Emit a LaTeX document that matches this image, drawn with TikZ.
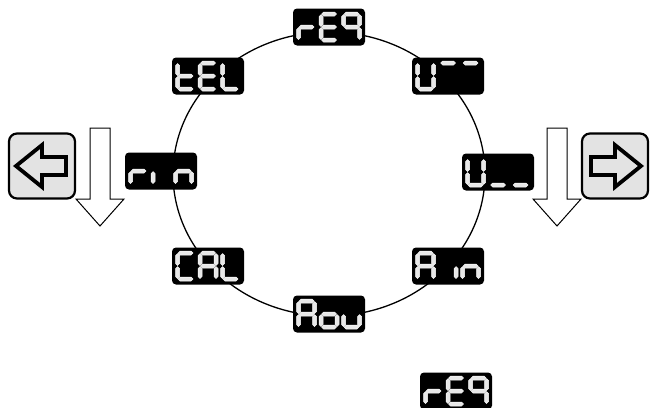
\documentclass[tikz,border=0pt]{standalone}
\usetikzlibrary{positioning}

% segmenti del display
\newcommand{\hseg}[2]{\filldraw[segmento] (#1+0.6,#2) -- ++(2,-2) -- ++(10.8,0) -- ++(2,2) -- ++(-2,2) -- ++(-10.8,0) -- cycle;}
\newcommand{\vseg}[2]{\filldraw[segmento] (#1,#2+0.6) -- ++(2,2) -- ++(0,7.8) -- ++(-2,2) -- ++(-2,-2) -- ++(0,-7.8) -- cycle;}
\newcommand{\sega}{\hseg{0}{0}}
\newcommand{\segg}{\hseg{0}{13}}
\newcommand{\segd}{\hseg{0}{26}}
\newcommand{\segf}{\vseg{0}{0}}
\newcommand{\sege}{\vseg{0}{13}}
\newcommand{\segb}{\vseg{16}{0}}
\newcommand{\segc}{\vseg{16}{13}}
\newcommand{\cifra}[2]{\begin{scope}[shift={(#1,-13)}]\foreach \s in {#2} {\csname seg\s\endcsname}\end{scope}}
\newcommand{\display}[5]{%
  \node[dispbox] (#1) at (#2) {};
  \begin{scope}[shift={(#2)}]
    \cifra{-30.5}{#3}\cifra{-8}{#4}\cifra{14.5}{#5}
  \end{scope}}

\tikzset{
  segmento/.style={fill=white!82!gray, draw=white, line width=0.5pt},
  dispbox/.style={fill=black, rounded corners=4pt, minimum width=72pt, minimum height=37pt, inner sep=0pt},
  pulsante/.style={fill=gray!22, draw=black, line width=2.2pt, rounded corners=8pt, minimum width=66pt, minimum height=65pt, inner sep=0pt},
  freccia/.style={draw=black, fill=white, line width=1pt, line join=miter}
}

\begin{document}
\begin{tikzpicture}[x=1pt, y=-1pt]
    \clip (0,0) rectangle (650,407);

    % Ellisse
    \draw[line width=1.3pt] (329,174) ellipse (156 and 142);

    % Display
    \display{reg}{329,27}{e,g}{a,d,e,f,g}{a,b,c,f,g}
    \display{tel}{208,76}{d,e,f,g}{a,d,e,f,g}{d,e,f}
    \display{umax}{448,76}{b,c,d,e,f}{a}{a}
    \display{rin}{161,171}{e,g}{e}{c,e,g}
    \display{umin}{498,172}{b,c,d,e,f}{d}{d}
    \display{cal}{208,266}{a,d,e,f}{a,b,c,e,f,g}{d,e,f}
    \display{ain}{448,266}{a,b,c,e,f,g}{c}{c,e,g}
    \display{aou}{329,314}{a,b,c,e,f,g}{c,d,e,g}{c,d,e}
    \display{regb}{456,391}{e,g}{a,d,e,f,g}{a,b,c,f,g}

    % Pulsanti
    \node[pulsante] (sx) at (42,166) {};
    \draw[line width=3.8pt, line join=miter] ([xshift=-26pt]sx.center) -- ++(26,-21) -- ++(0,12) -- ++(24,0)
        -- ++(0,18) -- ++(-24,0) -- ++(0,12) -- cycle;
    \node[pulsante] (dx) at (615,166) {};
    \draw[line width=3.8pt, line join=miter] ([xshift=26pt]dx.center) -- ++(-26,-21) -- ++(0,12) -- ++(-24,0)
        -- ++(0,18) -- ++(24,0) -- ++(0,12) -- cycle;

    % Frecce in basso
    \draw[freccia] (90,128) -- (110,128) -- (110,199) -- (124,199) -- (100,226) -- (76,199) -- (90,199) -- cycle;
    \draw[freccia] (547,128) -- (567,128) -- (567,199) -- (581,199) -- (557,226) -- (533,199) -- (547,199) -- cycle;
\end{tikzpicture}
\end{document}
